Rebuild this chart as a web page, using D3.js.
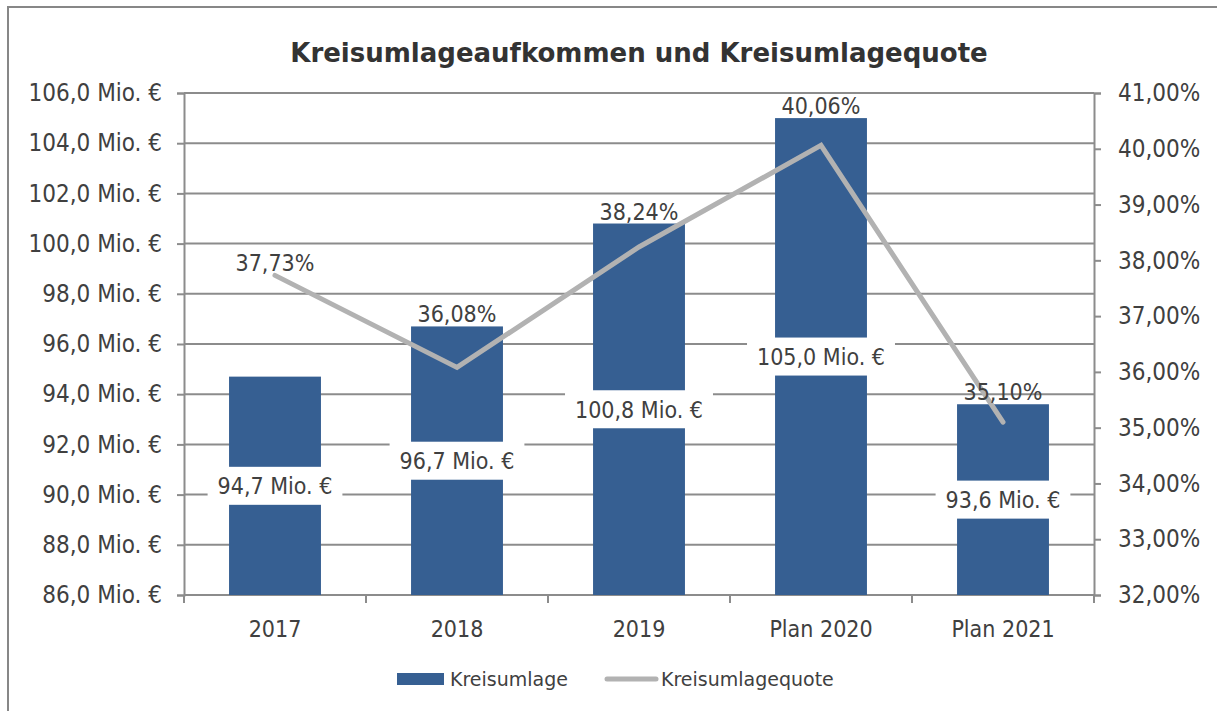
<!DOCTYPE html>
<html>
<head>
<meta charset="utf-8">
<script src="https://cdn.jsdelivr.net/npm/d3@7"></script>
<style>
  body { margin: 0; background: #fff; }
  svg { display: block; font-family: "DejaVu Sans Condensed", "DejaVu Sans", sans-serif; }
</style>
</head>
<body>
<div id="chart"></div>
<script>
// Data
const categories = ["2017", "2018", "2019", "Plan 2020", "Plan 2021"]
const umlage = [94.7, 96.7, 100.8, 105.0, 93.6]          // Mio. €
const quote = [37.73, 36.08, 38.24, 40.06, 35.10]         // %
const leftTicks = [86, 88, 90, 92, 94, 96, 98, 100, 102, 104, 106]
const rightTicks = [32, 33, 34, 35, 36, 37, 38, 39, 40, 41]

const width = 1217
const height = 711
const textColor = "#404040"
const gridColor = "#8c8c8c"
const barColor = "#365f92"
const lineColor = "#b2b2b2"

const de = d3.formatLocale({ decimal: ",", thousands: ".", grouping: [3], currency: ["", " €"] })
const fmtMio = v => de.format(".1f")(v) + " Mio. €"
const fmtPct = v => de.format(".2f")(v) + "%"

const svg = d3.select("#chart")
  .append("svg")
  .attr("width", width)
  .attr("height", height)

// Outer frame (runs off the right and bottom edge like the screenshot)
svg.append("rect")
  .attr("x", 8).attr("y", 7)
  .attr("width", width + 20).attr("height", height + 20)
  .attr("fill", "#fff")
  .attr("stroke", "#878787")
  .attr("stroke-width", 2)

const plot = { left: 184, right: 1094, top: 93, bottom: 595 }

const x = d3.scaleBand()
  .domain(categories)
  .range([plot.left, plot.right])
  .paddingInner(0).paddingOuter(0)

const yL = d3.scaleLinear().domain([86, 106]).range([plot.bottom, plot.top])
const yR = d3.scaleLinear().domain([32, 41]).range([plot.bottom, plot.top])

// Title
svg.append("text")
  .attr("x", (plot.left + plot.right) / 2)
  .attr("y", 62)
  .attr("text-anchor", "middle")
  .attr("font-family", "DejaVu Sans, sans-serif")
  .attr("font-size", "26px")
  .attr("font-weight", "bold")
  .attr("fill", "#333")
  .text("Kreisumlageaufkommen und Kreisumlagequote")

// Gridlines
svg.append("g")
  .selectAll("line")
  .data(leftTicks)
  .join("line")
  .attr("x1", plot.left).attr("x2", plot.right)
  .attr("y1", d => yL(d)).attr("y2", d => yL(d))
  .attr("stroke", gridColor)
  .attr("stroke-width", 2)

// Left axis
const axL = svg.append("g")
  .attr("transform", `translate(${plot.left},0)`)
  .call(d3.axisLeft(yL).tickValues(leftTicks).tickFormat(fmtMio).tickSize(7).tickPadding(15))
// Right axis
const axR = svg.append("g")
  .attr("transform", `translate(${plot.right},0)`)
  .call(d3.axisRight(yR).tickValues(rightTicks).tickFormat(fmtPct).tickSize(7).tickPadding(17))

for (const ax of [axL, axR]) {
  ax.select(".domain").attr("stroke", gridColor).attr("stroke-width", 2)
  ax.selectAll(".tick line").attr("stroke", gridColor).attr("stroke-width", 2)
  ax.selectAll(".tick text")
    .attr("fill", textColor)
    .attr("font-size", "24px")
    .attr("font-family", "DejaVu Sans Condensed, DejaVu Sans, sans-serif")
}

// Bottom axis: labels at band centres, ticks at band edges
const edges = categories.map(c => x(c)).concat([plot.right])
svg.append("g")
  .selectAll("line")
  .data(edges)
  .join("line")
  .attr("x1", d => d).attr("x2", d => d)
  .attr("y1", plot.bottom).attr("y2", plot.bottom + 8)
  .attr("stroke", gridColor)
  .attr("stroke-width", 2)

svg.append("line")
  .attr("x1", plot.left).attr("x2", plot.right)
  .attr("y1", plot.bottom).attr("y2", plot.bottom)
  .attr("stroke", gridColor)
  .attr("stroke-width", 2)

svg.append("g")
  .selectAll("text")
  .data(categories)
  .join("text")
  .attr("x", d => x(d) + x.bandwidth() / 2)
  .attr("y", 637)
  .attr("text-anchor", "middle")
  .attr("font-size", "23px")
  .attr("fill", textColor)
  .text(d => d)

// Bars
const barW = x.bandwidth() * 0.505
svg.append("g")
  .selectAll("rect")
  .data(umlage)
  .join("rect")
  .attr("x", (d, i) => x(categories[i]) + (x.bandwidth() - barW) / 2)
  .attr("y", d => yL(d))
  .attr("width", barW)
  .attr("height", d => yL(86) - yL(d))
  .attr("fill", barColor)

// Line
const line = d3.line()
  .x((d, i) => x(categories[i]) + x.bandwidth() / 2)
  .y(d => yR(d))

svg.append("path")
  .datum(quote)
  .attr("d", line)
  .attr("fill", "none")
  .attr("stroke", lineColor)
  .attr("stroke-width", 5)
  .attr("stroke-linecap", "round")
  .attr("stroke-linejoin", "miter")

// Bar value labels with white boxes, centred in the bar
const barLabels = svg.append("g")
  .selectAll("g")
  .data(umlage)
  .join("g")
  .attr("transform", (d, i) => `translate(${x(categories[i]) + x.bandwidth() / 2},${yL((86 + d) / 2)})`)

barLabels.append("rect").attr("fill", "#fff")
barLabels.append("text")
  .attr("text-anchor", "middle")
  .attr("dy", "0.36em")
  .attr("font-size", "23px")
  .attr("fill", textColor)
  .text(d => fmtMio(d))

barLabels.each(function() {
  const g = d3.select(this)
  const b = g.select("text").node().getBBox()
  g.select("rect")
    .attr("x", b.x - 10).attr("width", b.width + 20)
    .attr("y", -19).attr("height", 38)
})

// Line value labels above the point or bar, whichever is higher
svg.append("g")
  .selectAll("text")
  .data(quote)
  .join("text")
  .attr("x", (d, i) => x(categories[i]) + x.bandwidth() / 2)
  .attr("y", (d, i) => Math.min(yR(d), yL(umlage[i])) - 4)
  .attr("text-anchor", "middle")
  .attr("font-size", "23px")
  .attr("fill", textColor)
  .text(d => fmtPct(d))

// Legend
const legend = svg.append("g")
  .attr("transform", "translate(397,679)")
  .attr("font-family", "DejaVu Sans, sans-serif")
legend.append("rect")
  .attr("x", 0).attr("y", -6)
  .attr("width", 47).attr("height", 12)
  .attr("fill", barColor)
legend.append("text")
  .attr("x", 53).attr("y", 0).attr("dy", "0.36em")
  .attr("font-size", "19px")
  .attr("fill", textColor)
  .text("Kreisumlage")
legend.append("line")
  .attr("x1", 210).attr("x2", 259)
  .attr("y1", 0).attr("y2", 0)
  .attr("stroke", lineColor)
  .attr("stroke-width", 5)
  .attr("stroke-linecap", "round")
legend.append("text")
  .attr("x", 264).attr("y", 0).attr("dy", "0.36em")
  .attr("font-size", "19px")
  .attr("fill", textColor)
  .text("Kreisumlagequote")
</script>
</body>
</html>
